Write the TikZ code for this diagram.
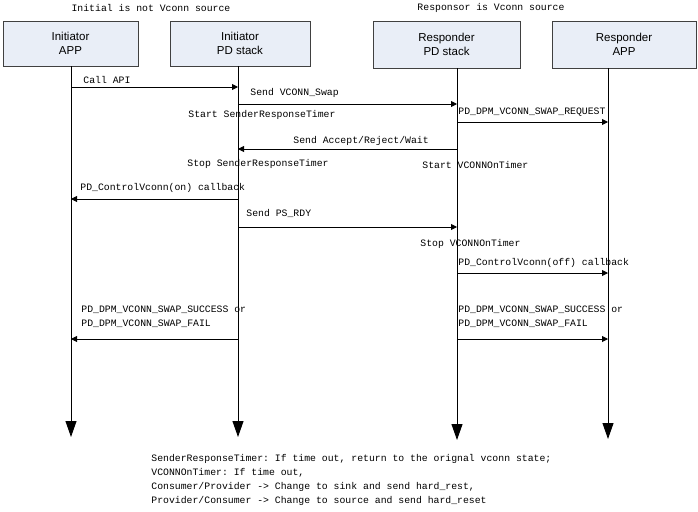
\documentclass[tikz,border=0pt]{standalone}
\usepackage{fontspec}
\setmainfont{Liberation Sans}
\setmonofont{Liberation Mono}
\usetikzlibrary{arrows.meta}
\definecolor{boxfill}{HTML}{E9EEF7}
\definecolor{boxline}{HTML}{404040}

\begin{document}
\begin{tikzpicture}
    [x=1pt, y=-1pt, line width=0.9pt,
 actor/.style ={rectangle, draw=boxline, fill=boxfill, align=center, inner sep=0pt, font=\fontsize{11.5}{14}\selectfont},
 life/.style ={draw, -{Triangle[length=16pt,width=11pt]}},
 msg/.style ={draw, -{Triangle[length=6pt,width=6pt]}},
 lbl/.style ={anchor=west, inner sep=0pt, font=\ttfamily\fontsize{9.8}{14}\selectfont}]
        \useasboundingbox (0,0) rectangle (698,511);
        \node[lbl, anchor=center] (title1) at (151,8) {Initial is not Vconn source};
        \node[lbl, anchor=center] (title2) at (491,8) {Responsor is Vconn source};
        \node[actor, minimum width=135pt, minimum height=45pt] (iapp) at (70.5,43.5) {Initiator\\APP};
        \node[actor, minimum width=140pt, minimum height=45pt] (ipd) at (240,43.5) {Initiator\\PD stack};
        \node[actor, minimum width=147pt, minimum height=47pt] (rpd) at (446.5,44.5) {Responder\\PD stack};
        \node[actor, minimum width=144pt, minimum height=47pt] (rapp) at (624,44.5) {Responder\\APP};
        \coordinate (iappend) at (71,437);
        \coordinate (ipdend) at (238,437);
        \coordinate (rpdend) at (457,440);
        \coordinate (rappend) at (608,439);
        \draw[life] (iapp.south -| iappend) -- (iappend);
        \draw[life] (ipd.south -| ipdend) -- (ipdend);
        \draw[life] (rpd.south -| rpdend) -- (rpdend);
        \draw[life] (rapp.south -| rappend) -- (rappend);

        \draw[msg] (iappend |- 0,87) -- (ipdend |- 0,87);
        \node[lbl] (callapi) at (83,80) {Call API};
        \draw[msg] (ipdend |- 0,104) -- (rpdend |- 0,104);
        \node[lbl] (swap) at (250,93) {Send VCONN\_Swap};
        \node[lbl] (startsrt) at (188,115) {Start SenderResponseTimer};
        \draw[msg] (rpdend |- 0,122) -- (rappend |- 0,122);
        \node[lbl] (request) at (458,112) {PD\_DPM\_VCONN\_SWAP\_REQUEST};
        \draw[msg] (rpdend |- 0,149) -- (ipdend |- 0,149);
        \node[lbl] (accept) at (293,141) {Send Accept/Reject/Wait};
        \node[lbl] (stopsrt) at (187,164) {Stop SenderResponseTimer};
        \node[lbl] (startvot) at (422,165) {Start VCONNOnTimer};
        \draw[msg] (ipdend |- 0,199) -- (iappend |- 0,199);
        \node[lbl] (vconnon) at (80,188) {PD\_ControlVconn(on) callback};
        \draw[msg] (ipdend |- 0,227) -- (rpdend |- 0,227);
        \node[lbl] (psrdy) at (246,213) {Send PS\_RDY};
        \node[lbl] (stopvot) at (420,244) {Stop VCONNOnTimer};
        \draw[msg] (rpdend |- 0,273) -- (rappend |- 0,273);
        \node[lbl] (vconnoff) at (458,263) {PD\_ControlVconn(off) callback};
        \draw[msg] (ipdend |- 0,339) -- (iappend |- 0,339);
        \node[lbl, align=left] (resultl) at (81,316.5) {PD\_DPM\_VCONN\_SWAP\_SUCCESS or\\PD\_DPM\_VCONN\_SWAP\_FAIL};
        \draw[msg] (rpdend |- 0,339) -- (rappend |- 0,339);
        \node[lbl, align=left] (resultr) at (458,316.5) {PD\_DPM\_VCONN\_SWAP\_SUCCESS or\\PD\_DPM\_VCONN\_SWAP\_FAIL};

        \node[lbl, align=left] (note) at (151,480) {SenderResponseTimer: If time out, return to the orignal vconn state;\\VCONNOnTimer: If time out,\\Consumer/Provider -> Change to sink and send hard\_rest,\\Provider/Consumer -> Change to source and send hard\_reset};
    \end{tikzpicture}
\end{document}
